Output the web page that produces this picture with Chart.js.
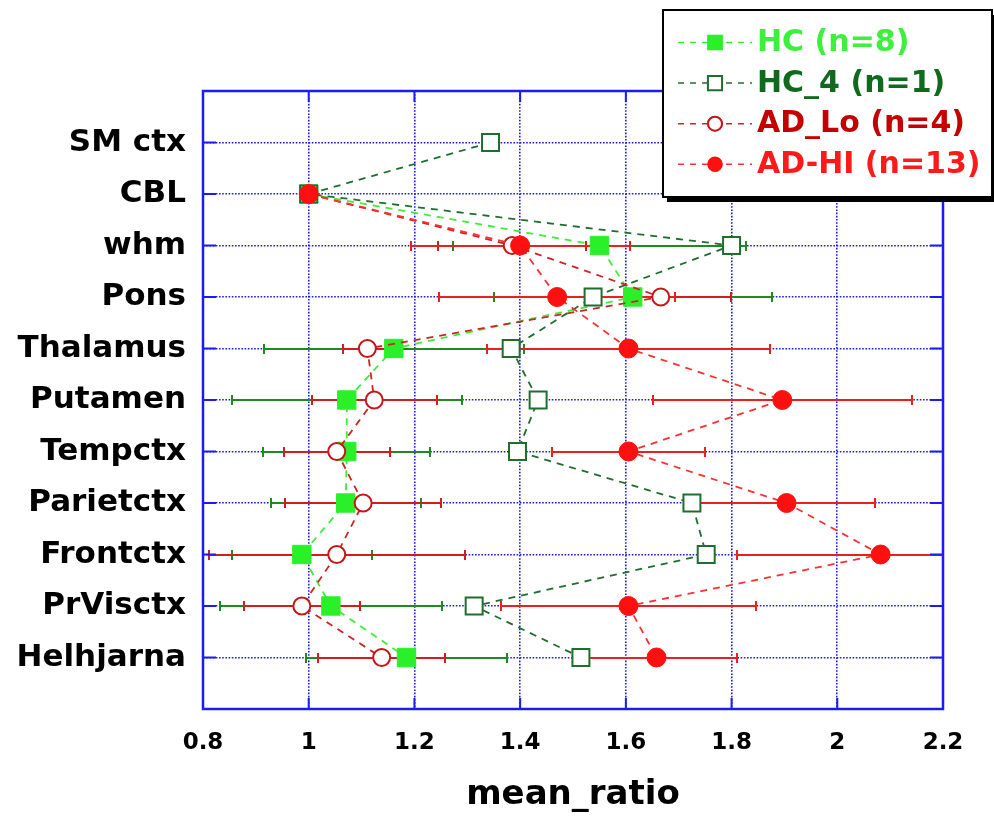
<!DOCTYPE html>
<html>
<head>
<meta charset="utf-8">
<script src="https://cdn.jsdelivr.net/npm/chart.js@4.4.1/dist/chart.umd.min.js"></script>
<style>
  html, body { margin: 0; padding: 0; background: #fff; }
  #wrap { width: 994px; height: 816px; }
</style>
</head>
<body>
<div id="wrap"><canvas id="ratioChart" width="994" height="816"></canvas></div>
<script>
// regions, top to bottom
const regions = ['SM ctx', 'CBL', 'whm', 'Pons', 'Thalamus', 'Putamen',
                 'Tempctx', 'Parietctx', 'Frontctx', 'PrVisctx', 'Helhjarna'];

// mean ratios and error half-widths per group (null = not measured)
const hcMean   = [null, 1.00, 1.550, 1.613, 1.161, 1.072, 1.072, 1.070, 0.987, 1.042, 1.185];
const hcErr    = [null, 0,    0.277, 0.263, 0.246, 0.218, 0.158, 0.142, 0.133, 0.210, 0.190];
const hc4Mean  = [1.344, 1.00, 1.800, 1.538, 1.383, 1.434, 1.395, 1.725, 1.752, 1.313, 1.515];
const adLoMean = [null, 1.00, 1.385, 1.666, 1.111, 1.124, 1.053, 1.103, 1.053, 0.987, 1.138];
const adLoErr  = [null, 0,    0.140, 0.132, 0.046, 0.118, 0.100, 0.148, 0.242, 0.110, 0.120];
const adHiMean = [null, 1.00, 1.400, 1.470, 1.605, 1.896, 1.605, 1.904, 2.082, 1.605, 1.658];
const adHiErr  = [null, 0,    0.207, 0.223, 0.268, 0.245, 0.144, 0.167, 0.271, 0.241, 0.153];

const xTicks = [0.8, 1.0, 1.2, 1.4, 1.6, 1.8, 2.0, 2.2];
const xTickLabels = ['0.8', '1', '1.2', '1.4', '1.6', '1.8', '2', '2.2'];

const BLUE = '#1c1cf0';
Chart.defaults.font.family = "'DejaVu Sans', sans-serif";

function pts(means) {
    return means.map((v, i) => ({ x: v, y: i + 1 })).filter(p => p.x !== null);
}

// error bars, drawn under the markers
const errorBars = {
    id: 'errorBars',
    beforeDatasetsDraw(chart) {
        const { ctx, chartArea, scales: { x, y } } = chart;
        ctx.save();
        ctx.beginPath();
        ctx.rect(chartArea.left, chartArea.top, chartArea.right - chartArea.left, chartArea.bottom - chartArea.top);
        ctx.clip();
        chart.data.datasets.forEach(ds => {
            if (!ds.err) return;
            ds.mean.forEach((m, i) => {
                if (m === null || !ds.err[i]) return;
                const py = Math.round(y.getPixelForValue(i + 1));
                const x1 = Math.round(x.getPixelForValue(m - ds.err[i]));
                const x2 = Math.round(x.getPixelForValue(m + ds.err[i]));
                ctx.strokeStyle = ds.errColor;
                ctx.lineWidth = 2;
                ctx.beginPath();
                ctx.moveTo(x1, py); ctx.lineTo(x2, py);
                ctx.moveTo(x1, py - 5); ctx.lineTo(x1, py + 5);
                ctx.moveTo(x2, py - 5); ctx.lineTo(x2, py + 5);
                ctx.stroke();
            });
        });
        ctx.restore();
    }
};

// plot frame with inward ticks
const frame = {
    id: 'frame',
    beforeDatasetsDraw(chart) {
        const { ctx, chartArea: a, scales: { x, y } } = chart;
        ctx.save();
        ctx.strokeStyle = BLUE;
        ctx.lineWidth = 2.5;
        ctx.strokeRect(a.left, a.top, a.right - a.left, a.bottom - a.top);
        ctx.lineWidth = 2;
        ctx.beginPath();
        xTicks.forEach(v => {
            const px = x.getPixelForValue(v);
            ctx.moveTo(px, a.top); ctx.lineTo(px, a.top + 11);
            ctx.moveTo(px, a.bottom); ctx.lineTo(px, a.bottom - 11);
        });
        regions.forEach((r, i) => {
            const py = y.getPixelForValue(i + 1);
            ctx.moveTo(a.left, py); ctx.lineTo(a.left + 13, py);
            ctx.moveTo(a.right, py); ctx.lineTo(a.right - 13, py);
        });
        ctx.stroke();
        ctx.restore();
    }
};

// boxed legend in the top right corner
const boxLegend = {
    id: 'boxLegend',
    afterDraw(chart) {
        const { ctx } = chart;
        const bx = 663, by = 10, bw = 329, bh = 187;
        ctx.save();
        ctx.fillStyle = '#000';
        ctx.fillRect(bx + 4, by + 5, bw, bh);
        ctx.fillStyle = '#fff';
        ctx.fillRect(bx, by, bw, bh);
        ctx.strokeStyle = '#000';
        ctx.lineWidth = 2;
        ctx.strokeRect(bx, by, bw, bh);
        chart.data.datasets.forEach((ds, i) => {
            const cy = 42.5 + i * 40.6;
            ctx.strokeStyle = ds.borderColor;
            ctx.lineWidth = 1.5;
            ctx.setLineDash([6, 6]);
            ctx.beginPath();
            ctx.moveTo(678, cy); ctx.lineTo(752, cy);
            ctx.stroke();
            ctx.setLineDash([]);
            Chart.helpers.drawPoint(ctx, {
                pointStyle: ds.pointStyle,
                radius: ds.pointStyle === 'rect' ? 10 : 7,
                borderWidth: ds.pointBorderWidth,
                rotation: 0
            }, 715, cy);
            ctx.fillStyle = ds.pointBackgroundColor;
            ctx.strokeStyle = ds.pointBorderColor;
            ctx.lineWidth = ds.pointBorderWidth;
            ctx.fill();
            ctx.stroke();
            ctx.fillStyle = ds.textColor;
            ctx.font = "bold 30px 'DejaVu Sans'";
            ctx.textBaseline = 'middle';
            ctx.textAlign = 'left';
            ctx.fillText(ds.label, 757, cy + 1);
        });
        ctx.restore();
    }
};

new Chart(document.getElementById('ratioChart'), {
    type: 'scatter',
    data: {
        datasets: [
            {
                label: 'HC (n=8)', data: pts(hcMean), mean: hcMean, err: hcErr,
                errColor: '#1f8a1f', textColor: '#3cf03c',
                showLine: true, borderColor: '#3cee3c', borderWidth: 1.8, borderDash: [7, 6],
                pointStyle: 'rect', pointRadius: 13, pointBackgroundColor: '#2af02a',
                pointBorderColor: '#2af02a', pointBorderWidth: 1, order: 3
            },
            {
                label: 'HC_4 (n=1)', data: pts(hc4Mean), mean: hc4Mean,
                textColor: '#0f6a1e',
                showLine: true, borderColor: '#1e6e2e', borderWidth: 1.8, borderDash: [7, 6],
                pointStyle: 'rect', pointRadius: 12, pointBackgroundColor: '#fff',
                pointBorderColor: '#1e6e2e', pointBorderWidth: 2, order: 2
            },
            {
                label: 'AD_Lo (n=4)', data: pts(adLoMean), mean: adLoMean, err: adLoErr,
                errColor: '#d41c1c', textColor: '#c40000',
                showLine: true, borderColor: '#d02424', borderWidth: 1.8, borderDash: [7, 6],
                pointStyle: 'circle', pointRadius: 8.5, pointBackgroundColor: '#fff',
                pointBorderColor: '#c41818', pointBorderWidth: 2, order: 1
            },
            {
                label: 'AD-HI (n=13)', data: pts(adHiMean), mean: adHiMean, err: adHiErr,
                errColor: '#e82020', textColor: '#ff1a1a',
                showLine: true, borderColor: '#ff3030', borderWidth: 1.8, borderDash: [7, 6],
                pointStyle: 'circle', pointRadius: 9.5, pointBackgroundColor: '#ff0f0f',
                pointBorderColor: '#ff0f0f', pointBorderWidth: 1, order: 0
            }
        ]
    },
    options: {
        responsive: false,
        animation: false,
        layout: { padding: { top: 91, right: 51, left: 0, bottom: 0 } },
        plugins: { legend: { display: false }, tooltip: { enabled: false } },
        scales: {
            x: {
                type: 'linear', min: 0.8, max: 2.2,
                afterFit: s => { s.height = 107; },
                afterBuildTicks: s => { s.ticks = xTicks.map(v => ({ value: v })); },
                grid: { color: BLUE, lineWidth: 1.6, drawTicks: false },
                border: { display: false, dash: [1.6, 1.6] },
                ticks: {
                    padding: 20, color: '#000', maxRotation: 0,
                    font: { size: 23, weight: 'bold' },
                    callback: (v, i) => xTickLabels[i]
                },
                title: {
                    display: true, text: 'mean_ratio', color: '#000',
                    font: { size: 34, weight: 'bold' }, padding: 0
                }
            },
            y: {
                type: 'linear', min: 0, max: 12, reverse: true,
                afterFit: s => { s.width = 203; },
                afterBuildTicks: s => { s.ticks = regions.map((r, i) => ({ value: i + 1 })); },
                grid: { color: BLUE, lineWidth: 1.6, drawTicks: false },
                border: { display: false, dash: [1.6, 1.6] },
                ticks: {
                    padding: 17, color: '#000',
                    font: { size: 31, weight: 'bold' },
                    callback: (v) => regions[v - 1]
                }
            }
        }
    },
    plugins: [errorBars, frame, boxLegend]
});
</script>
</body>
</html>
